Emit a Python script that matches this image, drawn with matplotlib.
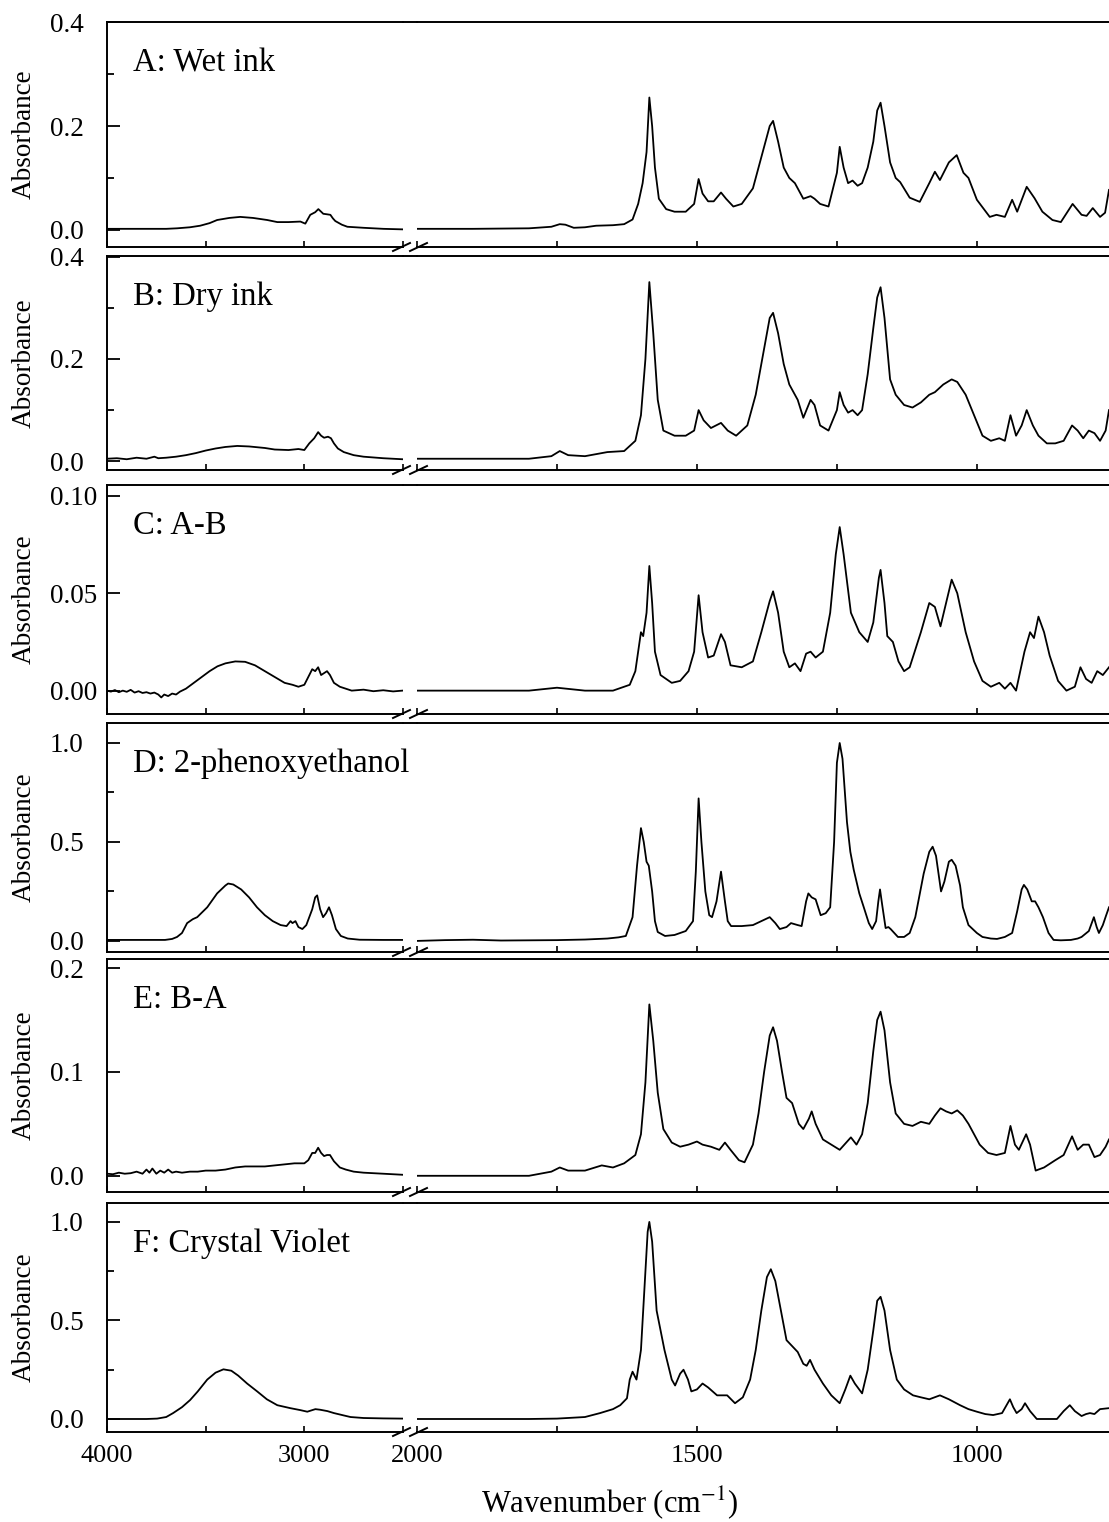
import matplotlib.pyplot as plt
from matplotlib.lines import Line2D
from matplotlib.ticker import FixedLocator

plt.rcParams['font.family'] = ['Liberation Serif', 'DejaVu Serif']
plt.rcParams['mathtext.fontset'] = 'stix'

# ---------------- data: (wavenumber, absorbance) ----------------
# high range 4000-2500, low range 2000-764

a_hi_wn = [4000, 3800, 3700, 3645, 3580, 3528, 3480, 3442, 3380, 3325, 3260, 3188, 3137, 3080, 3020,
           2995, 2970, 2945, 2929, 2915, 2904, 2885, 2868, 2855, 2843, 2810, 2782, 2700, 2600, 2503]
a_hi_ab = [0.002, 0.002, 0.002, 0.003, 0.005, 0.008, 0.013, 0.019, 0.023, 0.025, 0.023, 0.019, 0.015, 0.015, 0.016,
           0.012, 0.029, 0.034, 0.040, 0.035, 0.031, 0.030, 0.029, 0.022, 0.017, 0.010, 0.006, 0.004, 0.002, 0.001]
a_lo_wn = [2000, 1900, 1800, 1760, 1745, 1735, 1720, 1700, 1680, 1650, 1630, 1615, 1605, 1597, 1590, 1585, 1580,
           1575, 1568, 1555, 1540, 1520, 1505, 1497, 1490, 1480, 1470, 1457, 1448, 1435, 1420, 1400, 1385, 1370,
           1364, 1355, 1345, 1335, 1325, 1310, 1297, 1290, 1280, 1265, 1250, 1245, 1238, 1230, 1222, 1213, 1205,
           1195, 1185, 1178, 1172, 1165, 1155, 1145, 1137, 1120, 1102, 1085, 1075, 1066, 1050, 1036, 1024, 1015,
           1000, 977, 965, 950, 937, 928, 911, 897, 883, 865, 850, 829, 813, 804, 793, 780, 771, 764]
a_lo_ab = [0.002, 0.002, 0.003, 0.006, 0.011, 0.010, 0.004, 0.005, 0.008, 0.009, 0.011, 0.020, 0.050, 0.090, 0.150,
           0.255, 0.200, 0.120, 0.060, 0.040, 0.035, 0.035, 0.050, 0.098, 0.070, 0.055, 0.055, 0.072, 0.060, 0.045,
           0.050, 0.080, 0.140, 0.200, 0.210, 0.170, 0.120, 0.100, 0.090, 0.060, 0.065, 0.060, 0.050, 0.045, 0.110,
           0.160, 0.120, 0.090, 0.095, 0.085, 0.090, 0.120, 0.170, 0.230, 0.245, 0.200, 0.130, 0.100, 0.092, 0.062,
           0.054, 0.090, 0.112, 0.096, 0.130, 0.144, 0.110, 0.100, 0.058, 0.025, 0.029, 0.025, 0.058, 0.035, 0.083,
           0.061, 0.035, 0.019, 0.015, 0.050, 0.029, 0.027, 0.042, 0.025, 0.033, 0.077]

b_hi_wn = [4000, 3950, 3900, 3850, 3800, 3760, 3740, 3700, 3650, 3600, 3550, 3500, 3450, 3400, 3340, 3280, 3200,
           3150, 3080, 3030, 3000, 2975, 2950, 2930, 2915, 2900, 2880, 2865, 2850, 2830, 2800, 2750, 2700, 2600, 2503]
b_hi_ab = [0.005, 0.006, 0.004, 0.007, 0.005, 0.009, 0.006, 0.007, 0.009, 0.012, 0.016, 0.021, 0.025, 0.028, 0.030,
           0.029, 0.026, 0.023, 0.022, 0.024, 0.022, 0.035, 0.045, 0.057, 0.050, 0.046, 0.048, 0.045, 0.035, 0.025,
           0.018, 0.012, 0.009, 0.006, 0.004]
b_lo_wn = [2000, 1800, 1760, 1745, 1730, 1700, 1660, 1630, 1610, 1600, 1592, 1585, 1578, 1570, 1560, 1540, 1520,
           1505, 1497, 1488, 1475, 1457, 1445, 1430, 1410, 1395, 1380, 1370, 1364, 1355, 1345, 1335, 1320, 1310,
           1297, 1290, 1280, 1265, 1250, 1245, 1238, 1230, 1222, 1213, 1205, 1195, 1185, 1178, 1172, 1165, 1155,
           1145, 1130, 1115, 1100, 1085, 1075, 1060, 1045, 1035, 1020, 1005, 990, 975, 960, 950, 940, 930, 920,
           911, 900, 890, 875, 860, 845, 830, 820, 810, 800, 790, 780, 770, 764]
b_lo_ab = [0.005, 0.005, 0.010, 0.020, 0.012, 0.010, 0.018, 0.020, 0.040, 0.090, 0.200, 0.350, 0.250, 0.120, 0.060,
           0.050, 0.050, 0.060, 0.100, 0.080, 0.065, 0.075, 0.060, 0.050, 0.070, 0.130, 0.220, 0.280, 0.290, 0.250,
           0.190, 0.150, 0.120, 0.085, 0.120, 0.110, 0.070, 0.060, 0.100, 0.135, 0.110, 0.095, 0.100, 0.090, 0.100,
           0.170, 0.260, 0.320, 0.340, 0.280, 0.160, 0.130, 0.110, 0.105, 0.115, 0.130, 0.135, 0.150, 0.160, 0.155,
           0.130, 0.090, 0.050, 0.040, 0.045, 0.040, 0.090, 0.050, 0.070, 0.100, 0.070, 0.050, 0.035, 0.035, 0.040,
           0.070, 0.060, 0.045, 0.060, 0.055, 0.040, 0.060, 0.100]

c_hi_wn = [4000, 3980, 3960, 3940, 3920, 3900, 3880, 3860, 3840, 3820, 3800, 3780, 3760, 3740, 3725, 3710, 3690,
           3670, 3650, 3630, 3600, 3560, 3520, 3480, 3440, 3400, 3350, 3300, 3250, 3200, 3150, 3100, 3060, 3030,
           3000, 2985, 2960, 2945, 2930, 2915, 2900, 2885, 2870, 2850, 2820, 2790, 2760, 2700, 2650, 2600, 2550, 2503]
c_hi_ab = [0.0, -0.0005, 0.0003, -0.0008, 0.0, -0.0006, 0.0004, -0.001, -0.0003, -0.0012, -0.0008, -0.0015, -0.001,
           -0.002, -0.0035, -0.002, -0.0028, -0.0015, -0.002, -0.0005, 0.001, 0.004, 0.007, 0.010, 0.0125, 0.014,
           0.015, 0.0148, 0.013, 0.010, 0.007, 0.004, 0.003, 0.002, 0.003, 0.006, 0.011, 0.010, 0.012, 0.008, 0.009,
           0.010, 0.008, 0.004, 0.002, 0.001, 0.0, 0.0005, -0.0003, 0.0002, -0.0004, 0.0]
c_lo_wn = [2000, 1800, 1750, 1700, 1650, 1620, 1610, 1600, 1596, 1590, 1585, 1580, 1575, 1565, 1545, 1530, 1515,
           1505, 1497, 1490, 1480, 1470, 1457, 1450, 1440, 1420, 1400, 1385, 1370, 1364, 1355, 1345, 1335, 1325,
           1315, 1305, 1297, 1288, 1275, 1262, 1252, 1245, 1238, 1225, 1210, 1195, 1185, 1175, 1172, 1165, 1160,
           1150, 1140, 1130, 1120, 1100, 1085, 1075, 1065, 1055, 1045, 1035, 1020, 1005, 990, 975, 960, 950, 940,
           930, 915, 905, 898, 890, 880, 870, 855, 840, 825, 815, 805, 795, 785, 775, 764]
c_lo_ab = [0.0, 0.0, 0.0015, 0.0, 0.0, 0.003, 0.010, 0.030, 0.028, 0.040, 0.064, 0.045, 0.020, 0.008, 0.004, 0.005,
           0.010, 0.020, 0.049, 0.030, 0.017, 0.018, 0.029, 0.025, 0.013, 0.012, 0.015, 0.030, 0.046, 0.051, 0.040,
           0.020, 0.012, 0.014, 0.010, 0.019, 0.020, 0.017, 0.020, 0.040, 0.070, 0.084, 0.070, 0.040, 0.030, 0.025,
           0.035, 0.058, 0.062, 0.045, 0.028, 0.025, 0.015, 0.010, 0.012, 0.030, 0.045, 0.043, 0.033, 0.045, 0.057,
           0.050, 0.030, 0.015, 0.005, 0.002, 0.004, 0.001, 0.004, 0.0, 0.020, 0.030, 0.027, 0.038, 0.030, 0.018,
           0.005, 0.0, 0.002, 0.012, 0.006, 0.004, 0.010, 0.008, 0.012]

d_hi_wn = [4000, 3800, 3706, 3670, 3645, 3620, 3594, 3565, 3543, 3492, 3442, 3400, 3386, 3360, 3320, 3280, 3240,
           3200, 3160, 3120, 3090, 3070, 3060, 3045, 3030, 3010, 2990, 2960, 2945, 2935, 2920, 2905, 2890, 2875,
           2860, 2840, 2815, 2780, 2720, 2600, 2503]
d_hi_ab = [0.005, 0.005, 0.005, 0.010, 0.020, 0.040, 0.090, 0.110, 0.120, 0.170, 0.240, 0.280, 0.290, 0.285, 0.260,
           0.220, 0.170, 0.130, 0.100, 0.080, 0.075, 0.100, 0.090, 0.100, 0.070, 0.060, 0.080, 0.160, 0.220, 0.230,
           0.160, 0.120, 0.140, 0.170, 0.130, 0.060, 0.025, 0.012, 0.006, 0.005, 0.005]
d_lo_wn = [2000, 1950, 1900, 1850, 1800, 1750, 1700, 1660, 1640, 1627, 1615, 1607, 1600, 1595, 1590, 1586, 1580,
           1575, 1570, 1557, 1540, 1520, 1507, 1502, 1497, 1492, 1485, 1478, 1473, 1465, 1457, 1450, 1445, 1439,
           1420, 1400, 1385, 1370, 1360, 1352, 1340, 1332, 1320, 1313, 1305, 1301, 1295, 1288, 1279, 1270, 1262,
           1255, 1250, 1245, 1240, 1232, 1226, 1220, 1210, 1202, 1193, 1187, 1180, 1176, 1173, 1169, 1163, 1158,
           1154, 1141, 1130, 1120, 1110, 1095, 1085, 1079, 1073, 1064, 1058, 1050, 1045, 1038, 1030, 1025, 1015,
           1000, 990, 975, 964, 950, 937, 928, 920, 916, 910, 902, 896, 890, 882, 872, 863, 850, 832, 820, 813,
           800, 791, 786, 782, 775, 769, 764]
d_lo_ab = [0.0, 0.004, 0.006, 0.002, 0.003, 0.004, 0.007, 0.012, 0.018, 0.025, 0.120, 0.380, 0.570, 0.500, 0.400,
           0.380, 0.250, 0.100, 0.045, 0.025, 0.030, 0.050, 0.100, 0.350, 0.720, 0.500, 0.250, 0.130, 0.120, 0.200,
           0.350, 0.200, 0.100, 0.075, 0.075, 0.080, 0.100, 0.120, 0.090, 0.060, 0.070, 0.090, 0.080, 0.075, 0.200,
           0.240, 0.220, 0.210, 0.130, 0.140, 0.170, 0.500, 0.900, 1.000, 0.920, 0.600, 0.450, 0.360, 0.240, 0.170,
           0.090, 0.060, 0.100, 0.200, 0.260, 0.180, 0.065, 0.070, 0.060, 0.020, 0.020, 0.040, 0.120, 0.340, 0.450,
           0.476, 0.430, 0.250, 0.300, 0.400, 0.410, 0.380, 0.280, 0.170, 0.080, 0.040, 0.020, 0.012, 0.010, 0.020,
           0.040, 0.150, 0.260, 0.283, 0.260, 0.200, 0.200, 0.170, 0.120, 0.040, 0.005, 0.003, 0.005, 0.012, 0.020,
           0.050, 0.120, 0.070, 0.040, 0.080, 0.130, 0.170]

e_hi_wn = [4000, 3970, 3940, 3910, 3880, 3850, 3820, 3800, 3785, 3770, 3750, 3730, 3710, 3690, 3670, 3650, 3620,
           3580, 3540, 3500, 3450, 3400, 3350, 3300, 3250, 3200, 3150, 3100, 3050, 3000, 2980, 2960, 2945, 2930,
           2915, 2900, 2885, 2870, 2850, 2820, 2790, 2750, 2700, 2600, 2503]
e_hi_ab = [0.002, 0.0015, 0.003, 0.002, 0.0025, 0.004, 0.002, 0.006, 0.003, 0.007, 0.002, 0.005, 0.003, 0.006, 0.003,
           0.004, 0.003, 0.004, 0.004, 0.005, 0.005, 0.006, 0.008, 0.009, 0.009, 0.009, 0.010, 0.011, 0.012, 0.012,
           0.015, 0.022, 0.022, 0.027, 0.022, 0.019, 0.020, 0.020, 0.014, 0.008, 0.006, 0.004, 0.003, 0.002, 0.001]
e_lo_wn = [2000, 1800, 1760, 1745, 1730, 1700, 1670, 1650, 1630, 1610, 1600, 1592, 1585, 1578, 1570, 1560, 1545,
           1530, 1515, 1500, 1490, 1475, 1460, 1450, 1440, 1425, 1415, 1400, 1390, 1380, 1370, 1364, 1357, 1348,
           1340, 1330, 1318, 1310, 1300, 1295, 1288, 1275, 1260, 1245, 1230, 1225, 1215, 1205, 1195, 1185, 1178,
           1172, 1165, 1155, 1145, 1130, 1115, 1100, 1085, 1075, 1065, 1055, 1045, 1035, 1025, 1015, 1005, 995,
           980, 965, 950, 940, 932, 925, 912, 905, 895, 880, 860, 845, 830, 820, 810, 800, 790, 780, 770, 764]
e_lo_ab = [0.0, 0.0, 0.004, 0.008, 0.005, 0.005, 0.010, 0.008, 0.012, 0.020, 0.040, 0.090, 0.165, 0.130, 0.080, 0.045,
           0.032, 0.028, 0.030, 0.033, 0.030, 0.028, 0.025, 0.032, 0.025, 0.015, 0.013, 0.030, 0.060, 0.100, 0.135,
           0.143, 0.130, 0.100, 0.075, 0.070, 0.050, 0.045, 0.055, 0.062, 0.050, 0.035, 0.030, 0.025, 0.034, 0.037,
           0.030, 0.040, 0.070, 0.120, 0.150, 0.158, 0.140, 0.090, 0.060, 0.050, 0.048, 0.052, 0.050, 0.058, 0.065,
           0.062, 0.060, 0.063, 0.058, 0.050, 0.040, 0.030, 0.022, 0.020, 0.022, 0.048, 0.030, 0.025, 0.040, 0.030,
           0.005, 0.008, 0.015, 0.020, 0.038, 0.025, 0.030, 0.030, 0.018, 0.020, 0.028, 0.035]

f_hi_wn = [4000, 3800, 3746, 3700, 3665, 3620, 3579, 3540, 3492, 3450, 3410, 3370, 3335, 3290, 3239, 3190, 3137,
           3071, 3020, 2985, 2960, 2944, 2920, 2883, 2850, 2800, 2766, 2700, 2600, 2503]
f_hi_ab = [0.0, 0.0, 0.002, 0.010, 0.030, 0.060, 0.096, 0.140, 0.200, 0.235, 0.252, 0.245, 0.220, 0.180, 0.140,
           0.100, 0.070, 0.055, 0.045, 0.037, 0.045, 0.050, 0.047, 0.040, 0.030, 0.018, 0.010, 0.005, 0.003, 0.002]
f_lo_wn = [2000, 1900, 1800, 1750, 1700, 1673, 1650, 1637, 1625, 1620, 1615, 1608, 1600, 1593, 1588, 1585, 1580,
           1572, 1565, 1558, 1545, 1539, 1530, 1524, 1516, 1510, 1500, 1490, 1480, 1464, 1446, 1432, 1418, 1405,
           1395, 1385, 1375, 1368, 1360, 1350, 1340, 1330, 1320, 1310, 1304, 1298, 1290, 1275, 1260, 1245, 1235,
           1226, 1218, 1205, 1195, 1185, 1178, 1172, 1165, 1155, 1143, 1130, 1114, 1100, 1085, 1066, 1050, 1030,
           1015, 1000, 985, 971, 955, 941, 935, 929, 920, 914, 905, 893, 875, 857, 845, 834, 825, 813, 805, 798,
           790, 780, 764]
f_lo_ab = [0.0, 0.0, 0.0, 0.002, 0.010, 0.030, 0.050, 0.070, 0.105, 0.200, 0.240, 0.200, 0.350, 0.700, 0.950, 1.000,
           0.900, 0.550, 0.450, 0.350, 0.200, 0.170, 0.230, 0.250, 0.200, 0.140, 0.150, 0.180, 0.160, 0.120, 0.120,
           0.080, 0.110, 0.200, 0.350, 0.550, 0.720, 0.760, 0.700, 0.550, 0.400, 0.370, 0.340, 0.280, 0.270, 0.300,
           0.250, 0.180, 0.120, 0.080, 0.150, 0.220, 0.180, 0.130, 0.250, 0.450, 0.600, 0.620, 0.550, 0.350, 0.200,
           0.150, 0.120, 0.110, 0.100, 0.120, 0.100, 0.070, 0.050, 0.037, 0.025, 0.020, 0.030, 0.100, 0.060, 0.030,
           0.050, 0.080, 0.040, 0.000, 0.000, 0.000, 0.040, 0.070, 0.040, 0.015, 0.025, 0.030, 0.025, 0.050, 0.055]

labels = ["A: Wet ink", "B: Dry ink", "C: A-B", "D: 2-phenoxyethanol", "E: B-A", "F: Crystal Violet"]
hi_wn = [a_hi_wn, b_hi_wn, c_hi_wn, d_hi_wn, e_hi_wn, f_hi_wn]
hi_ab = [a_hi_ab, b_hi_ab, c_hi_ab, d_hi_ab, e_hi_ab, f_hi_ab]
lo_wn = [a_lo_wn, b_lo_wn, c_lo_wn, d_lo_wn, e_lo_wn, f_lo_wn]
lo_ab = [a_lo_ab, b_lo_ab, c_lo_ab, d_lo_ab, e_lo_ab, f_lo_ab]

yticks = [[0.0, 0.2, 0.4], [0.0, 0.2, 0.4], [0.0, 0.05, 0.10], [0.0, 0.5, 1.0], [0.0, 0.1, 0.2], [0.0, 0.5, 1.0]]
ytick_lbl = [["0.0", "0.2", "0.4"], ["0.0", "0.2", "0.4"], ["0.00", "0.05", "0.10"],
             ["0.0", "0.5", "1.0"], ["0.0", "0.1", "0.2"], ["0.0", "0.5", "1.0"]]
yminor = [[0.1, 0.3], [0.1, 0.3], [], [0.25, 0.75], [], [0.25, 0.75]]
ylims = [(-0.033, 0.4005), (-0.017, 0.401), (-0.012, 0.1056), (-0.056, 1.101), (-0.0156, 0.2087), (-0.066, 1.096)]

# ---------------- layout (pixels) ----------------
W, H = 1109, 1522
panel_top = [22, 256, 485, 723, 959, 1203]
panel_bot = [247, 470, 714, 952, 1192, 1432]
xl0, xl1 = 107, 403      # 4000 .. 2500
xr0, xr1 = 417, 1109     # 2000 .. 764

fig = plt.figure(figsize=(W / 100, H / 100), dpi=100)
LW = 1.4

for i in range(6):
    top, bot = panel_top[i], panel_bot[i]
    h = (bot - top) / H
    y0 = 1 - bot / H
    axl = fig.add_axes([xl0 / W, y0, (xl1 - xl0) / W, h])
    axr = fig.add_axes([xr0 / W, y0, (xr1 - xr0) / W, h])

    axl.plot(hi_wn[i], hi_ab[i], color='black', lw=1.3)
    axr.plot(lo_wn[i], lo_ab[i], color='black', lw=1.3)

    axl.set_xlim(4000, 2500)
    axr.set_xlim(2000, 764)
    for ax in (axl, axr):
        ax.set_ylim(*ylims[i])
        for s in ax.spines.values():
            s.set_linewidth(LW)
    axl.spines['right'].set_visible(False)
    axr.spines['left'].set_visible(False)
    axr.spines['right'].set_visible(False)

    # y axis on left block only
    axl.yaxis.set_major_locator(FixedLocator(yticks[i]))
    axl.set_yticklabels(ytick_lbl[i])
    axl.yaxis.set_minor_locator(FixedLocator(yminor[i]))
    axl.tick_params(axis='y', which='major', direction='in', length=9, width=1.3, pad=41, labelsize=19.5)
    axl.tick_params(axis='y', which='minor', direction='in', length=5, width=1.3)
    for t in axl.get_yticklabels():
        t.set_horizontalalignment('left')
    axr.tick_params(axis='y', which='both', left=False, labelleft=False)

    axl.xaxis.set_major_locator(FixedLocator([4000, 3000]))
    axl.xaxis.set_minor_locator(FixedLocator([3500, 2500]))
    axr.xaxis.set_major_locator(FixedLocator([2000, 1500, 1000]))
    axr.xaxis.set_minor_locator(FixedLocator([1750, 1250]))
    for ax in (axl, axr):
        ax.tick_params(axis='x', which='both', direction='in', length=4, width=1.2,
                       labelsize=19, pad=9, labelbottom=(i == 5))

    # continuous top frame across the gap
    fig.add_artist(Line2D([xl1 / W, xr0 / W], [1 - top / H, 1 - top / H], color='black', lw=LW))
    # break marks on the bottom frame
    for bx in (393, 410):
        fig.add_artist(Line2D([bx / W, (bx + 17) / W], [1 - (bot + 4) / H, 1 - (bot - 4) / H],
                              color='black', lw=1.4))

    fig.text(133 / W, 1 - (top + 41) / H, labels[i], fontsize=23.5, ha='left', va='center')
    fig.text(24 / W, 1 - (top + bot) / 2 / H, 'Absorbance', fontsize=19.5, rotation=90,
             ha='center', va='center')

fig.text(610 / W, 1 - 1503 / H, 'Wavenumber (cm$^{-1}$)', fontsize=22, ha='center', va='center')

fig.savefig('out.png', dpi=100)
